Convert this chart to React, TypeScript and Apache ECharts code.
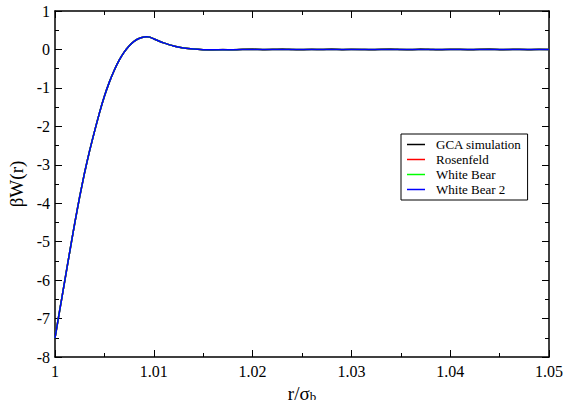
import React, { useEffect, useRef } from "react";
import * as echarts from "echarts";

const rTheory = [
  1.0, 1.0005, 1.001, 1.0015, 1.002, 1.0025, 1.003, 1.0035, 1.004, 1.0045, 1.005, 1.0055, 1.006,
  1.0065, 1.007, 1.0075, 1.008, 1.0085, 1.009, 1.0093, 1.0096, 1.01, 1.0105, 1.011, 1.012, 1.013,
  1.014, 1.015, 1.016, 1.018, 1.02, 1.025, 1.03, 1.035, 1.04, 1.045, 1.05,
];
const wTheory = [
  -7.51, -6.75, -6.0, -5.25, -4.52, -3.83, -3.2, -2.64, -2.13, -1.65, -1.22, -0.85, -0.54,
  -0.28, -0.07, 0.09, 0.21, 0.285, 0.322, 0.33, 0.32, 0.275, 0.22, 0.17, 0.09, 0.04,
  0.01, -0.005, -0.01, -0.005, 0, 0, 0, 0, 0, 0, 0,
];
const rSim = [
  1.0, 1.0005, 1.001, 1.0015, 1.002, 1.0025, 1.003, 1.0035, 1.004, 1.0045, 1.005, 1.0055, 1.006,
  1.0065, 1.007, 1.0075, 1.008, 1.0085, 1.009, 1.0093, 1.0096, 1.01, 1.0105, 1.011, 1.012, 1.013,
  1.014, 1.015, 1.016, 1.017, 1.018, 1.019, 1.02, 1.021, 1.022, 1.023, 1.024, 1.025, 1.026, 1.027,
  1.028, 1.029, 1.03, 1.031, 1.032, 1.033, 1.034, 1.035, 1.036, 1.037, 1.038, 1.039, 1.04, 1.041,
  1.042, 1.043, 1.044, 1.045, 1.046, 1.047, 1.048, 1.049, 1.05,
];
const wSim = [
  -7.51, -6.75, -6.0, -5.25, -4.52, -3.83, -3.2, -2.64, -2.13, -1.65, -1.22, -0.85, -0.54,
  -0.28, -0.07, 0.09, 0.21, 0.285, 0.322, 0.33, 0.32, 0.275, 0.22, 0.17, 0.09, 0.04,
  0.01, -0.005, -0.012, -0.004, -0.01, 0.004, 0.01, -0.006, 0.005, 0.014, 0.0, -0.01, 0.006,
  -0.004, 0.012, -0.008, 0.005, 0.0, -0.01, 0.008, 0.013, 0.0, -0.007, 0.01, 0.0, -0.011, 0.008,
  0.003, -0.008, 0.007, 0.01, -0.005, 0.0, 0.008, -0.006, 0.005, 0.0,
];

const seriesNames = ["GCA simulation", "Rosenfeld", "White Bear", "White Bear 2"];
const seriesColors = ["#000000", "#ff0000", "#00ff00", "#0000ff"];

const FONT = "Liberation Serif";

export default function App() {
  const ref = useRef<HTMLDivElement>(null);
  useEffect(() => {
    if (!ref.current) return;
    const chart = echarts.init(ref.current, null, { renderer: "svg" });
    const simData = rSim.map((r, i) => [r, wSim[i]]);
    const thData = rTheory.map((r, i) => [r, wTheory[i]]);
    const axisCommon = {
      axisLine: { show: true, onZero: false, lineStyle: { color: "#000", width: 1.5 } },
      axisTick: { show: true, inside: true, length: 7, lineStyle: { color: "#000", width: 1 } },
      minorTick: { show: true, splitNumber: 2, length: 4, lineStyle: { color: "#000", width: 1 } },
      splitLine: { show: false },
    };
    chart.setOption({
      animation: false,
      backgroundColor: "#fff",
      grid: { left: 55, right: 17, top: 11, bottom: 43, containLabel: false, outerBoundsMode: "none" },
      xAxis: [
        {
          type: "value",
          min: 1,
          max: 1.05,
          interval: 0.01,
          position: "bottom",
          ...axisCommon,
          axisLabel: {
            fontFamily: FONT,
            fontSize: 16,
            color: "#000",
            margin: 6,
            formatter: (v: number) => (Math.abs(v - 1) < 1e-9 ? "1" : v.toFixed(2)),
          },
          name: "r/σ{sub|b}",
          nameLocation: "middle",
          nameGap: 18,
          nameTextStyle: {
            fontFamily: FONT,
            fontSize: 19,
            color: "#000",
            rich: { sub: { fontFamily: FONT, fontSize: 13, color: "#000", verticalAlign: "bottom", padding: [5, 0, 0, 0] } },
          },
        },
        {
          type: "value",
          min: 1,
          max: 1.05,
          interval: 0.01,
          position: "top",
          ...axisCommon,
          axisLabel: { show: false },
        },
      ],
      yAxis: [
        {
          type: "value",
          min: -8,
          max: 1,
          interval: 1,
          position: "left",
          ...axisCommon,
          axisLabel: { fontFamily: FONT, fontSize: 16, color: "#000", margin: 5 },
          name: "βW(r)",
          nameLocation: "middle",
          nameGap: 26,
          nameRotate: 90,
          nameTextStyle: { fontFamily: FONT, fontSize: 19, color: "#000" },
        },
        {
          type: "value",
          min: -8,
          max: 1,
          interval: 1,
          position: "right",
          ...axisCommon,
          axisLabel: { show: false },
        },
      ],
      legend: {
        orient: "vertical",
        left: 401,
        top: 134,
        padding: [4, 6, 4, 6],
        itemGap: 2,
        itemWidth: 18,
        itemHeight: 1.5,
        icon: "rect",
        borderColor: "#000",
        borderWidth: 1,
        borderRadius: 0,
        backgroundColor: "#fff",
        data: seriesNames,
        textStyle: { fontFamily: FONT, fontSize: 13, color: "#000", lineHeight: 13, padding: [0, 0, 0, 6] },
      },
      series: seriesNames.map((name, i) => ({
        name,
        type: "line",
        data: i === 0 ? simData : thData,
        smooth: 0.2,
        showSymbol: false,
        symbol: "none",
        itemStyle: { color: seriesColors[i] },
        lineStyle: { color: seriesColors[i], width: 1.5 },
        z: 2 + i,
      })),
    });
    return () => chart.dispose();
  }, []);
  return (
    <div
      ref={ref}
      style={{ position: "absolute", left: 0, top: 0, width: 566, height: 400 }}
    />
  );
}
